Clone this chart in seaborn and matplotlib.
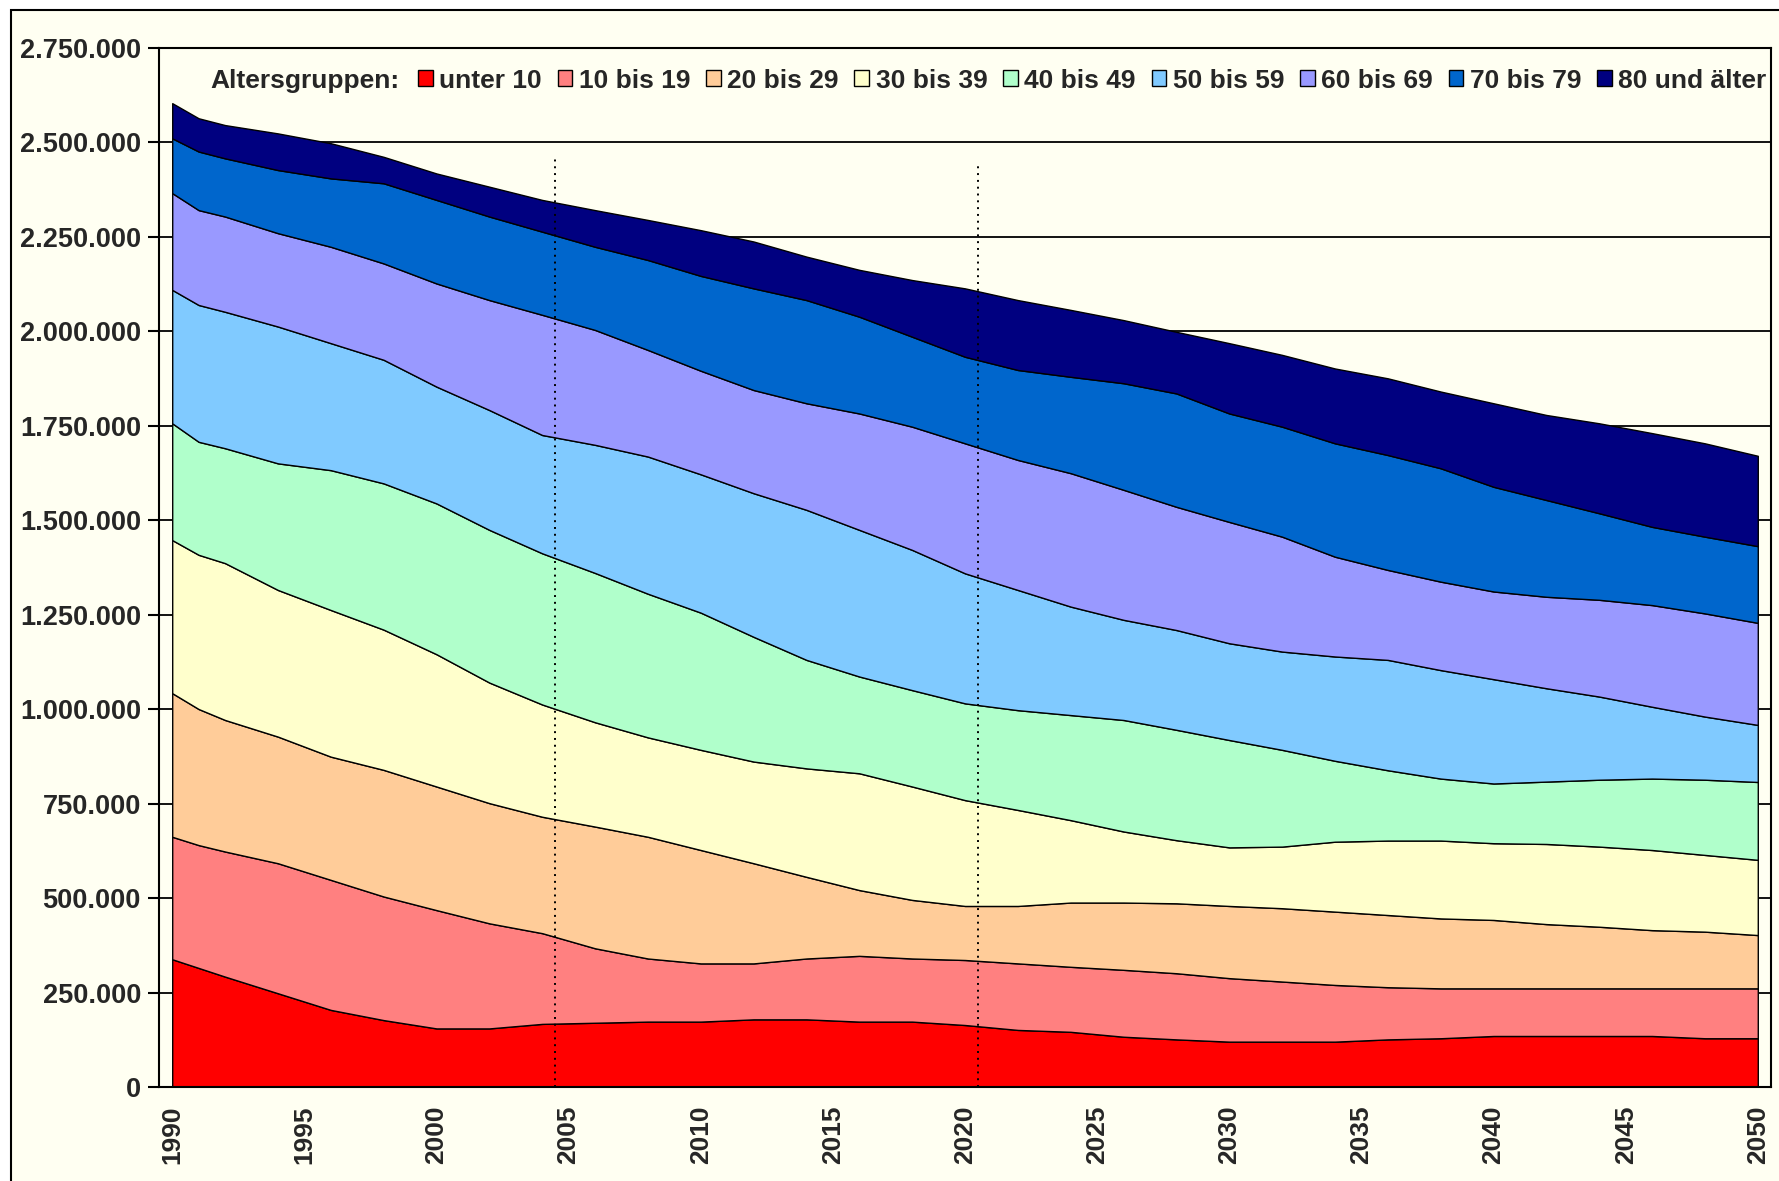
import matplotlib
matplotlib.use("Agg")
import matplotlib.pyplot as plt
from matplotlib.ticker import FuncFormatter, FixedLocator
from matplotlib.patches import Rectangle, Patch
import pandas as pd
import seaborn as sns

# years (every 2nd year, plus 1991 for the first kink)
years = [1990, 1991, 1992, 1994, 1996, 1998, 2000, 2002, 2004, 2006,
         2008, 2010, 2012, 2014, 2016, 2018, 2020, 2022, 2024, 2026,
         2028, 2030, 2032, 2034, 2036, 2038, 2040, 2042, 2044, 2046,
         2048, 2050]

# people per age group, in thousands
unter_10 = [338, 315, 292, 248, 204, 177, 155, 155, 167, 170,
            173, 173, 179, 179, 173, 173, 164, 151, 146, 133,
            126, 120, 120, 120, 126, 129, 135, 135, 135, 135,
            129, 129]
bis_19 = [324, 325, 331, 344, 344, 327, 313, 278, 240, 197,
          167, 154, 148, 161, 174, 167, 172, 176, 172, 177,
          175, 168, 159, 150, 138, 132, 126, 126, 126, 126,
          132, 132]
bis_29 = [380, 360, 348, 335, 326, 335, 327, 318, 308, 322,
          322, 300, 265, 216, 174, 155, 143, 152, 170, 178,
          185, 191, 194, 194, 191, 185, 181, 170, 163, 154,
          150, 141]
bis_39 = [405, 408, 415, 388, 388, 371, 350, 319, 297, 276,
          263, 265, 269, 287, 309, 300, 280, 254, 218, 188,
          167, 155, 163, 185, 197, 206, 203, 212, 212, 212,
          203, 199]
bis_49 = [309, 299, 304, 335, 370, 387, 399, 404, 400, 395,
          380, 363, 330, 287, 256, 255, 256, 264, 278, 295,
          292, 284, 256, 214, 186, 164, 158, 165, 177, 189,
          199, 206]
bis_59 = [353, 362, 361, 362, 336, 327, 309, 317, 313, 339,
          363, 366, 380, 397, 388, 371, 344, 318, 287, 265,
          264, 256, 260, 276, 292, 287, 276, 247, 220, 190,
          167, 151]
bis_69 = [256, 251, 252, 247, 255, 255, 273, 291, 318, 304,
          282, 274, 273, 282, 308, 326, 344, 344, 353, 344,
          326, 321, 304, 264, 238, 234, 232, 242, 256, 269,
          273, 270]
bis_79 = [145, 155, 154, 167, 181, 212, 221, 221, 220, 220,
          238, 251, 269, 273, 256, 238, 229, 238, 255, 282,
          300, 287, 291, 300, 304, 300, 277, 256, 229, 207,
          203, 203]
ab_80 = [93, 88, 88, 97, 93, 70, 70, 79, 84, 97,
         106, 121, 124, 115, 124, 150, 181, 185, 177, 167,
         163, 186, 190, 198, 203, 203, 221, 225, 238, 248,
         247, 239]

groups = ["unter 10", "10 bis 19", "20 bis 29", "30 bis 39", "40 bis 49",
          "50 bis 59", "60 bis 69", "70 bis 79", "80 und älter"]
colors = ["#FF0000", "#FF8080", "#FFCC99", "#FFFFCC", "#B0FFCB",
          "#80CAFF", "#9999FF", "#0066CC", "#000080"]
label_years = [1990, 1995, 2000, 2005, 2010, 2015, 2020, 2025,
               2030, 2035, 2040, 2045, 2050]
# dotted marker lines (between 2004/2005 and 2020/2021) and their tops
mark_x = [2004.5, 2020.5]
mark_top = [2460000, 2445000]

df = pd.DataFrame({"Jahr": years})
for g, vals in zip(groups, [unter_10, bis_19, bis_29, bis_39, bis_49,
                            bis_59, bis_69, bis_79, ab_80]):
    df[g] = [v * 1000 for v in vals]

bg = "#FFFFF2"
fs = 19
sns.set_theme(style="white")
plt.rcParams["font.family"] = ["Liberation Sans", "DejaVu Sans"]
plt.rcParams["font.weight"] = "bold"
pal = sns.color_palette(colors)

fig = plt.figure(figsize=(17.79, 11.81), dpi=100, facecolor="white")
# outer chart frame
fig.add_artist(Rectangle((11 / 1779, -0.05), 1.2, (1181 - 10) / 1181 + 0.05,
                         transform=fig.transFigure, facecolor=bg,
                         edgecolor="black", lw=1.5, zorder=-10))
ax = fig.add_axes([159 / 1779, 94 / 1181, (1771 - 159) / 1779, (1087 - 47.6) / 1181])
ax.set_facecolor(bg)

ax.stackplot(df["Jahr"], [df[g] for g in groups], colors=pal,
             edgecolor="black", linewidth=1.0, zorder=2)

for x, top in zip(mark_x, mark_top):
    ax.plot([x, x], [0, top], color="black", lw=1.4,
            linestyle=(0, (1, 2.5)), zorder=3)

ax.set_xlim(1989.5, 2050.5)
ax.set_ylim(0, 2750000)
ax.set_yticks(range(0, 2750001, 250000))
ax.yaxis.set_major_formatter(FuncFormatter(lambda v, p: f"{int(v):,}".replace(",", ".")))
ax.yaxis.grid(True, color="black", lw=1.3)
ax.set_axisbelow(True)

ax.xaxis.set_major_locator(FixedLocator(label_years))
ax.xaxis.set_minor_locator(FixedLocator([y + 0.5 for y in range(1989, 2051)]))
ax.tick_params(axis="x", which="major", length=0, pad=13, labelsize=fs, rotation=90)
ax.tick_params(axis="x", which="minor", length=8, width=1.5, color="black", direction="out")
ax.tick_params(axis="y", length=8, width=1.5, color="black", direction="out",
               pad=5, labelsize=fs + 0.5, left=True)
for lab in ax.get_xticklabels() + ax.get_yticklabels():
    lab.set_fontweight("bold")
for s in ax.spines.values():
    s.set_color("black")
    s.set_linewidth(1.5)
ax.set_xlabel("")
ax.set_ylabel("")

# legend row
fig.text(210 / 1779, 0.9318, "Altersgruppen:", fontsize=fs, fontweight="bold",
         va="center", ha="left")
handles = [Patch(facecolor=c, edgecolor="black", lw=1.0) for c in colors]
fig.legend(handles, groups, ncol=9, loc="center left",
           bbox_to_anchor=(418 / 1779, 0.9318), frameon=False,
           handlelength=0.55, handleheight=0.55, handletextpad=0.25,
           columnspacing=0.6, borderpad=0, borderaxespad=0,
           prop={"size": fs, "weight": "bold"})

fig.savefig("out.png", dpi=100, facecolor="white")
